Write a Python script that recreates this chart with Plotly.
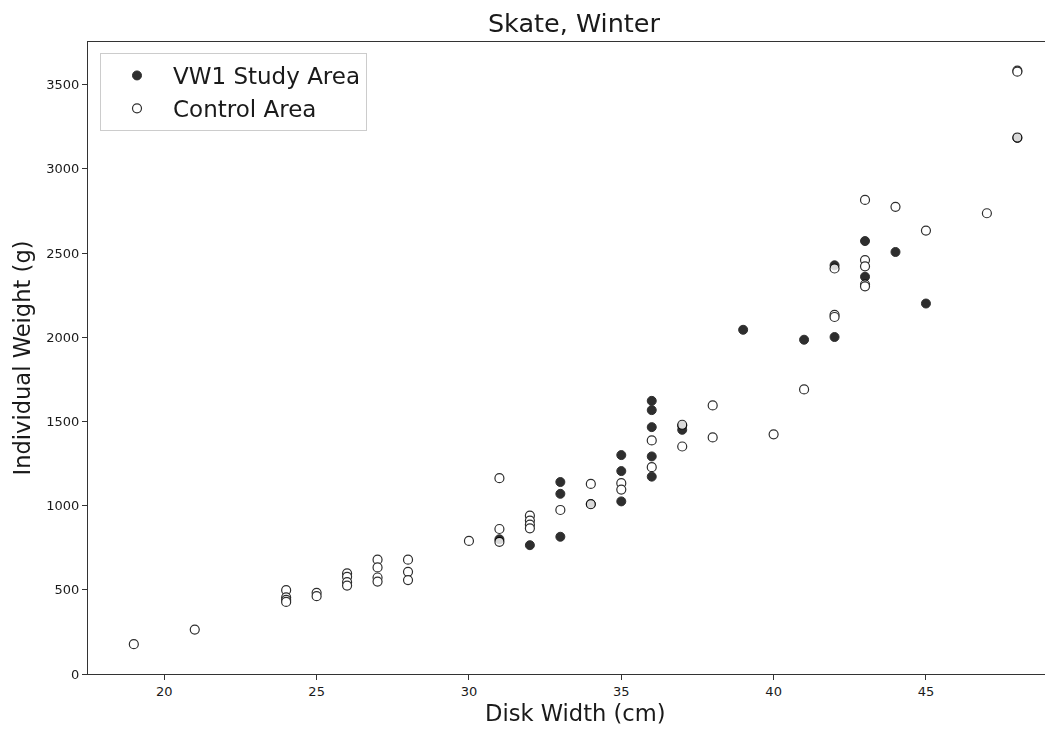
import plotly.graph_objects as go

# ---- data ----
vw1_width = [31, 32, 33, 33, 33, 34, 35, 35, 35, 36, 36, 36, 36, 36,
             37, 37, 39, 41, 42, 42, 43, 43, 44, 45, 48]
vw1_weight = [800, 765, 1140, 1070, 815, 1010, 1300, 1205, 1025, 1622, 1567, 1466, 1292, 1172,
              1474, 1450, 2044, 1985, 2427, 2001, 2571, 2359, 2506, 2200, 3183]

ctrl_width = [19, 21, 24, 24, 24, 24, 25, 25, 26, 26, 26, 26, 27, 27, 27, 27, 28, 28, 28,
              30, 31, 31, 31, 32, 32, 32, 32, 33, 34, 34, 35, 35, 36, 36, 37, 37, 38, 38,
              40, 41, 42, 42, 42, 43, 43, 43, 43, 43, 44, 45, 47, 48, 48, 48]
ctrl_weight = [177, 264, 498, 455, 440, 428, 482, 462, 597, 577, 545, 525, 679, 633, 573, 549,
               679, 607, 558, 790, 1163, 861, 785, 940, 911, 887, 865, 974, 1129, 1008,
               1133, 1095, 1387, 1228, 1480, 1351, 1595, 1405, 1423, 1690, 2408, 2133, 2120,
               2815, 2458, 2421, 2313, 2302, 2774, 2633, 2736, 3583, 3577, 3186]

x_ticks = [20, 25, 30, 35, 40, 45]
y_ticks = [0, 500, 1000, 1500, 2000, 2500, 3000, 3500]

FONT = "DejaVu Sans"
TXT = "#1a1a1a"
W, H = 1045, 722  # page adds an 8px body margin
L, T, B = 80, 34, 56
PW, PH = W - L, H - T - B

fig = go.Figure()
fig.add_trace(go.Scatter(
    x=vw1_width, y=vw1_weight, mode="markers", name="VW1 Study Area",
    opacity=0.82,
    marker=dict(size=9, color="black", line=dict(color="black", width=1)),
))
fig.add_trace(go.Scatter(
    x=ctrl_width, y=ctrl_weight, mode="markers", name="Control Area",
    opacity=0.82,
    marker=dict(size=9, color="white", line=dict(color="black", width=1.2)),
))

axis_common = dict(
    showgrid=False, zeroline=False, showline=True, linecolor="#333", linewidth=1,
    ticks="outside", ticklen=5, tickwidth=1, tickcolor="#333", automargin=False,
    tickfont=dict(family=FONT, size=13, color=TXT),
)

fig.update_layout(
    width=W, height=H,
    margin=dict(l=L, r=0, t=T, b=B),
    paper_bgcolor="white", plot_bgcolor="white",
    font=dict(family=FONT, color=TXT),
    title=dict(text="Skate, Winter", font=dict(family=FONT, size=25.5, color=TXT),
               x=566 / W, xref="container", xanchor="center",
               y=1 - 15 / H, yref="container", yanchor="middle"),
    xaxis=dict(range=[17.496, 49.17], tickvals=x_ticks, mirror=True, **axis_common),
    yaxis=dict(range=[0, 3753], tickvals=y_ticks, mirror=False,
               title=dict(text="Individual Weight (g)", font=dict(family=FONT, size=22.6, color=TXT), standoff=9),
               **axis_common),
    legend=dict(x=12 / PW, y=1 - 11 / PH, xanchor="left", yanchor="top",
                bgcolor="rgba(255,255,255,0.8)", bordercolor="#cccccc", borderwidth=1,
                font=dict(family=FONT, size=23, color=TXT), itemwidth=62,
                tracegroupgap=0),
    showlegend=True,
    annotations=[dict(text="Disk Width (cm)", xref="paper", yref="paper",
                      x=487 / PW, y=-39 / PH, xanchor="center", yanchor="middle",
                      showarrow=False, font=dict(family=FONT, size=22.6, color=TXT))],
)

fig.write_html("out.html")
